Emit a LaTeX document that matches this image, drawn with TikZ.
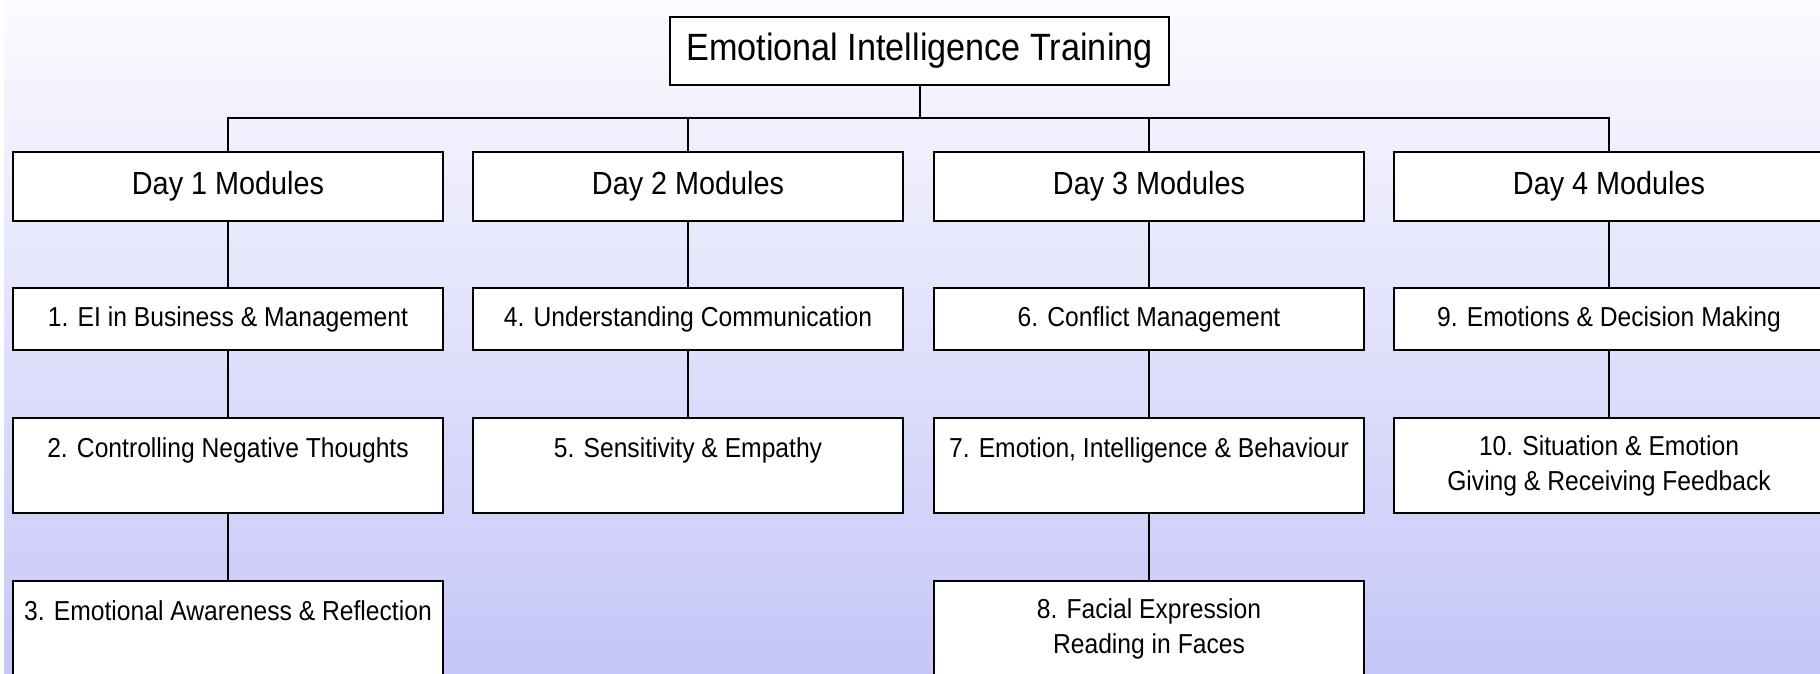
\documentclass[tikz,border=0pt]{standalone}
\usepackage{fontspec}
\setmainfont{Liberation Sans}[FakeStretch=0.9]
\usepackage{tikz}
\usetikzlibrary{positioning}

\definecolor{bgtop}{RGB}{251,251,255}
\definecolor{bgmid}{RGB}{243,243,254}
\definecolor{bgbot}{RGB}{198,198,248}

\begin{document}
\begin{tikzpicture}[x=0.5pt,y=-0.5pt]
			\tikzstyle{Box}		= [rectangle, draw, line width=1pt, fill=white, minimum width=215pt, inner sep=0pt, align=center]
			\tikzstyle{Title}	= [Box, minimum width=249.5pt, minimum height=34pt, font=\fontsize{19}{23}\selectfont]
			\tikzstyle{Day}		= [Box, minimum height=34.5pt, font=\fontsize{16}{19}\selectfont]
			\tikzstyle{Low}		= [Box, minimum height=31pt, font=\fontsize{13.7}{17.5}\selectfont]
			\tikzstyle{High}	= [Box, minimum height=47.5pt, font=\fontsize{13.7}{17.5}\selectfont]
			\tikzstyle{Line}	= [line width=1pt]

			\clip (0,0) rectangle (1820,674);
			\fill [white] (0,0) rectangle (1820,674);
			\shade [top color=bgtop, middle color=bgmid, bottom color=bgbot] (4,0) rectangle (1820,674);

			\node (t) at (919.5,51) [Title] {Emotional Intelligence Training};
			\coordinate (bus) at (919.5,118);

			\node (d1) at (228,186.5) [Day] {Day 1 Modules};
			\node (d2) at (688,186.5) [Day] {Day 2 Modules};
			\node (d3) at (1149,186.5) [Day] {Day 3 Modules};
			\node (d4) at (1609,186.5) [Day] {Day 4 Modules};

			\node (m1) at (228,319) [Low] {1. EI in Business \& Management};
			\node (m2) at (228,465.5) [High] {2. Controlling Negative Thoughts\\~};
			\node (m3) at (228,628.5) [High] {3. Emotional Awareness \& Reflection\\~};
			\node (m4) at (688,319) [Low] {4. Understanding Communication};
			\node (m5) at (688,465.5) [High] {5. Sensitivity \& Empathy\\~};
			\node (m6) at (1149,319) [Low] {6. Conflict Management};
			\node (m7) at (1149,465.5) [High] {7. Emotion, Intelligence \& Behaviour\\~};
			\node (m8) at (1149,628.5) [High] {8. Facial Expression\\Reading in Faces};
			\node (m9) at (1609,319) [Low] {9. Emotions \& Decision Making};
			\node (m10) at (1609,465.5) [High] {10. Situation \& Emotion\\Giving \& Receiving Feedback};

			\draw [-] (t) to (bus) [Line];
			\draw [-] (bus) -| (d1) [Line];
			\draw [-] (bus) -| (d2) [Line];
			\draw [-] (bus) -| (d3) [Line];
			\draw [-] (bus) -| (d4) [Line];
			\draw [-] (d1) to (m1) [Line];
			\draw [-] (m1) to (m2) [Line];
			\draw [-] (m2) to (m3) [Line];
			\draw [-] (d2) to (m4) [Line];
			\draw [-] (m4) to (m5) [Line];
			\draw [-] (d3) to (m6) [Line];
			\draw [-] (m6) to (m7) [Line];
			\draw [-] (m7) to (m8) [Line];
			\draw [-] (d4) to (m9) [Line];
			\draw [-] (m9) to (m10) [Line];
		\end{tikzpicture}
\end{document}
